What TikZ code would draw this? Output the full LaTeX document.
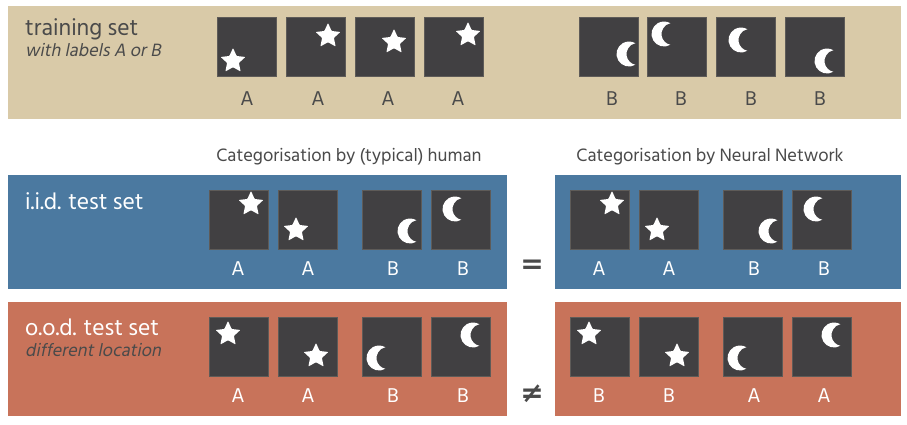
\documentclass[tikz,border=0pt]{standalone}
\usepackage{fontspec}
\setmainfont{Hind Siliguri}
\newfontfamily\hindit[FakeSlant=0.2]{Hind Siliguri}
\newfontfamily\symfnt{DejaVu Sans}
\definecolor{tanbg}{HTML}{D9CAA8}
\definecolor{bluebg}{HTML}{4B79A0}
\definecolor{orangebg}{HTML}{C8735A}
\definecolor{tilec}{HTML}{414042}
\definecolor{tileedge}{HTML}{5E5B58}
\definecolor{txtgray}{HTML}{4A4A4A}
\tikzset{
  tilebox/.style={fill=tilec, draw=tileedge, line width=0.8pt},
  title/.style={anchor=base west, inner sep=0pt, font=\fontsize{23.5}{28}\selectfont},
  subtitle/.style={anchor=base west, inner sep=0pt, font=\fontsize{18.3}{22}\selectfont\hindit, text=txtgray},
  lbl/.style={anchor=base, inner sep=0pt, font=\fontsize{20.5}{24}\selectfont},
  head/.style={anchor=base, inner sep=0pt, font=\fontsize{18.4}{22}\selectfont, text=txtgray},
  rel/.style={inner sep=0pt, text=txtgray, font=\fontsize{28}{32}\selectfont\symfnt\bfseries}
}
\newcommand\starshape{\fill[white, rounded corners=0.7pt] (270:13) -- (306:6.2) -- (342:13) -- (18:6.2) -- (54:13) -- (90:6.2) -- (126:13) -- (162:6.2) -- (198:13) -- (234:6.2) -- cycle;}
\newcommand\moonshape{\fill[white] (59.6:12.5) arc[start angle=59.6, end angle=300.4, radius=12.5] arc[start angle=258.6, end angle=101.4, radius=11] -- cycle;}
\newcommand\startile[4]{\begin{scope}[shift={(#1,#2)}]\filldraw[tilebox] (0,0) rectangle (59,59);\begin{scope}[shift={(#3,#4)}]\starshape\end{scope}\end{scope}}
\newcommand\moontile[4]{\begin{scope}[shift={(#1,#2)}]\filldraw[tilebox] (0,0) rectangle (59,59);\begin{scope}[shift={(#3,#4)}]\moonshape\end{scope}\end{scope}}
\begin{document}
\begin{tikzpicture}[x=1pt,y=-1pt]
\useasboundingbox (0,0) rectangle (907,424);
\fill[white] (0,0) rectangle (907,424);
% bands
\fill[tanbg] (8,6) rectangle (901,119);
\fill[bluebg] (8,175) rectangle (507,289);
\fill[bluebg] (555,175) rectangle (901,289);
\fill[orangebg] (8,302) rectangle (507,416);
\fill[orangebg] (555,302) rectangle (901,416);
% training set
\node[title, text=txtgray] (ttrain) at (25,35) {training set};
\node[subtitle] (tlabels) at (25,56) {with labels A or B};
\startile{217}{17}{16}{44}
\startile{286}{17}{42}{19}
\startile{355}{17}{39}{25}
\startile{424}{17}{44}{18}
\moontile{579}{17}{50}{37}
\moontile{647}{17}{17}{17}
\moontile{716}{17}{25}{23}
\moontile{785}{17}{42}{44}
\foreach \x/\t [count=\i] in {247/A,318/A,388/A,458/A,612/B,681/B,751/B,820/B}
  \node[lbl, text=txtgray] (tl\i) at (\x,105) {\t};
% headings
\node[head] (hhuman) at (349,161) {Categorisation by (typical) human};
\node[head] (hnet) at (710,161) {Categorisation by Neural Network};
% iid
\node[title, text=white] (tiid) at (25,209) {i.i.d. test set};
\foreach \dx in {0,361}{
  \startile{209+\dx}{190}{42}{14}
  \startile{278+\dx}{190}{18}{40}
  \moontile{362+\dx}{190}{48}{41}
  \moontile{431+\dx}{190}{24}{19}
}
\foreach \x/\t [count=\i] in {238/A,308/A,393/B,463/B,599/A,669/A,754/B,824/B}
  \node[lbl, text=white] (il\i) at (\x,275) {\t};
\node[rel] (eq) at (532,267) {=};
% ood
\node[title, text=white] (tood) at (25,335) {o.o.d. test set};
\node[subtitle] (tdiff) at (25,356) {different location};
\foreach \dx in {0,361}{
  \startile{209+\dx}{317}{19}{17}
  \startile{278+\dx}{317}{38}{39}
  \moontile{362+\dx}{317}{17}{41}
  \moontile{431+\dx}{317}{42}{18}
}
\foreach \x/\t [count=\i] in {238/A,308/A,393/B,463/B,599/B,669/B,754/A,824/A}
  \node[lbl, text=white] (ol\i) at (\x,402) {\t};
\node[rel] (neq) at (532,394) {≠};
\end{tikzpicture}
\end{document}
